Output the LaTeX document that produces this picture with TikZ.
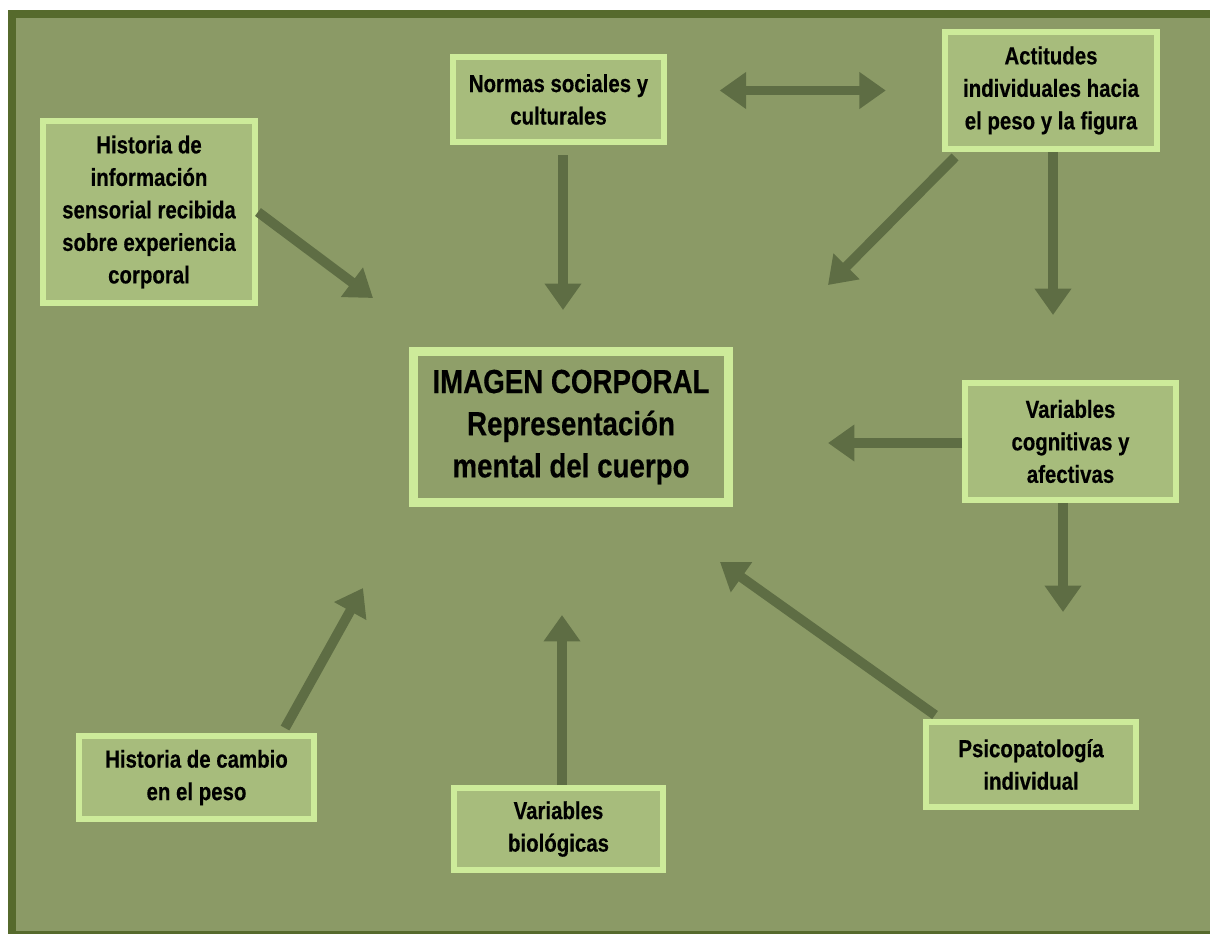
\documentclass[tikz,border=0pt]{standalone}
\usepackage{fontspec}
\setmainfont{Liberation Sans}[FakeStretch=0.83, BoldFeatures={FakeBold=0.4}]
\usetikzlibrary{arrows.meta,positioning,calc}
\definecolor{olive}{HTML}{8B9A66}
\definecolor{oliveDark}{HTML}{566A2C}
\definecolor{leaf}{HTML}{CDEB9A}
\definecolor{leafFill}{HTML}{A7BC7C}
\definecolor{coreFill}{HTML}{8F9F69}
\definecolor{arrowc}{HTML}{5E6D44}
\tikzset{
  box/.style={rectangle, draw=leaf, fill=leafFill, line width=3.4pt, align=center,
              inner sep=0pt, text=black, font=\bfseries\fontsize{14}{18.5}\selectfont},
  mainbox/.style={box, fill=coreFill, line width=5.1pt, font=\bfseries\fontsize{19}{24}\selectfont},
  flow/.style={-{Triangle[length=15pt,width=20pt]}, draw=arrowc, line width=5.6pt},
  dflow/.style={{Triangle[length=15pt,width=20pt]}-{Triangle[length=15pt,width=20pt]}, draw=arrowc, line width=5.6pt}
}
\begin{document}
\begin{tikzpicture}[x=0.02cm, y=-0.02cm]
  % frame
  \fill[white] (0,0) rectangle (1210,934);
  \fill[oliveDark] (8,10) rectangle (1210,934);
  \fill[olive] (16,18) rectangle (1210,931);
  \useasboundingbox (0,0) rectangle (1210,934);

  % boxes
  \node[mainbox, minimum width=6.30cm, minimum height=3.02cm] (imagen) at (571,427) {IMAGEN CORPORAL\\Representación\\mental del cuerpo};
  \node[box, minimum width=4.24cm, minimum height=3.64cm] (histinfo) at (149,212) {Historia de\\información\\sensorial recibida\\sobre experiencia\\corporal};
  \node[box, minimum width=4.22cm, minimum height=1.70cm] (normas) at (558.5,99.5) {Normas sociales y\\culturales};
  \node[box, minimum width=4.24cm, minimum height=2.34cm] (actitudes) at (1051,90.5) {Actitudes\\individuales hacia\\el peso y la figura};
  \node[box, minimum width=4.22cm, minimum height=2.34cm] (varcog) at (1070.5,441.5) {Variables\\cognitivas y\\afectivas};
  \node[box, minimum width=4.70cm, minimum height=1.66cm] (histcambio) at (196.5,777.5) {Historia de cambio\\en el peso};
  \node[box, minimum width=4.18cm, minimum height=1.64cm] (biol) at (558.5,829) {Variables\\biológicas};
  \node[box, minimum width=4.20cm, minimum height=1.70cm] (psico) at (1031,764.5) {Psicopatología\\individual};

  % arrow tips
  \coordinate (tipinfo) at (373,298);
  \coordinate (tipnormas) at (563,310);
  \coordinate (tipactd) at (828,285);
  \coordinate (tipacts) at (1053,315);
  \coordinate (tipcogw) at (828,443);
  \coordinate (tipcogs) at (1063,612);
  \coordinate (tippsico) at (720,562);
  \coordinate (tipcambio) at (363,588);
  \coordinate (tipbiol) at (562,615);

  % connectors
  \draw[dflow, shorten <=30pt, shorten >=32pt] (normas.east |- actitudes.west) -- (actitudes.west);
  \draw[flow] (histinfo.east) -- (tipinfo);
  \draw[flow, shorten <=5.7pt] (normas.south -| tipnormas) -- (tipnormas);
  \draw[flow] ([shift={(13,5)}]actitudes.south west) -- (tipactd);
  \draw[flow] (actitudes.south -| tipacts) -- (tipacts);
  \draw[flow] (varcog.west |- tipcogw) -- (tipcogw);
  \draw[flow] (varcog.south -| tipcogs) -- (tipcogs);
  \draw[flow] ([shift={(12,-4)}]psico.north west) -- (tippsico);
  \draw[flow] ([shift={(209,-5)}]histcambio.north west) -- (tipcambio);
  \draw[flow] (biol.north -| tipbiol) -- (tipbiol);
\end{tikzpicture}
\end{document}
